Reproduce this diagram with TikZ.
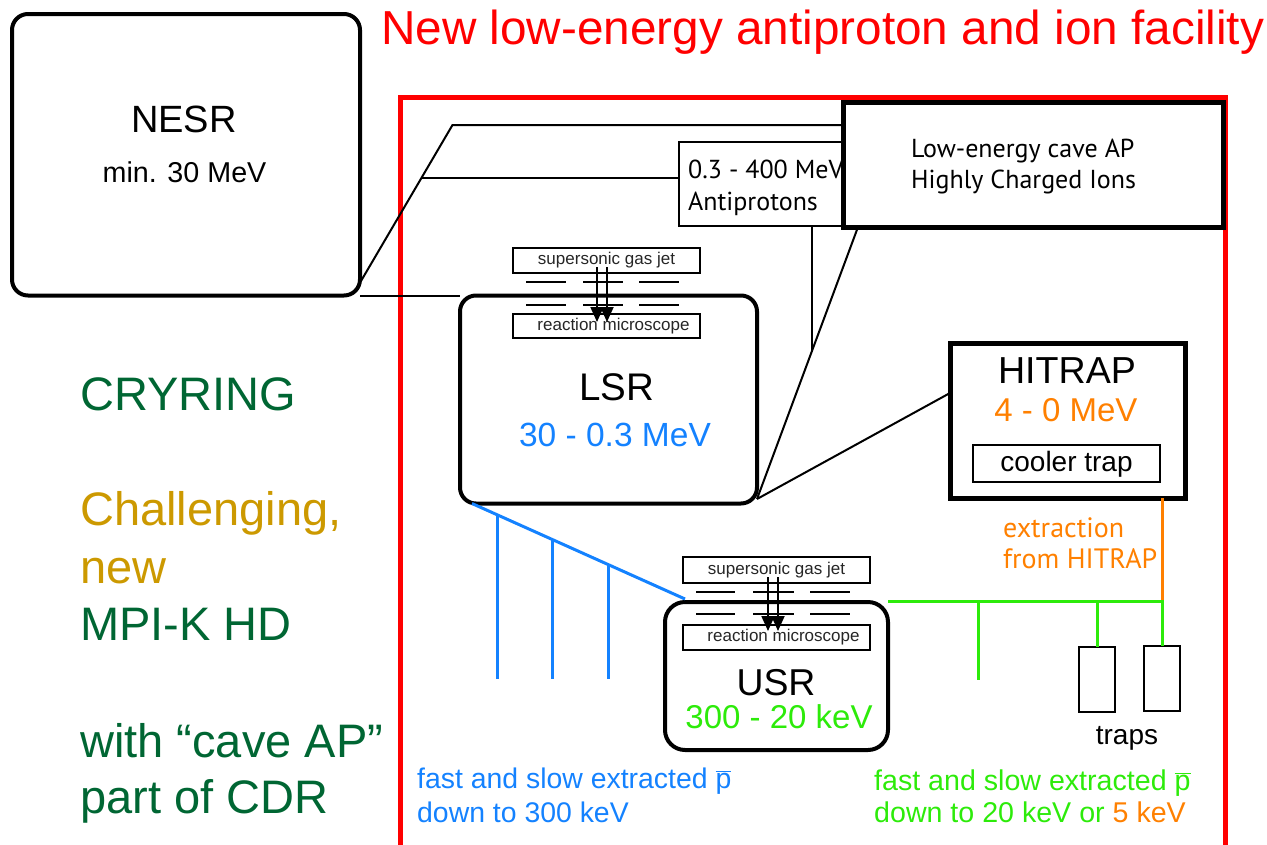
\documentclass[tikz,border=0pt]{standalone}
\usepackage{fontspec}
\setmainfont{Liberation Sans}
\newfontfamily\myr{PT Sans}
\usetikzlibrary{arrows.meta,calc}
\definecolor{fred}{RGB}{255,0,0}
\definecolor{lblue}{RGB}{20,130,255}
\definecolor{lgreen}{RGB}{45,235,10}
\definecolor{lorange}{RGB}{255,128,0}
\definecolor{dgreen}{RGB}{0,102,51}
\definecolor{gold}{RGB}{204,153,0}
\newcommand{\fsz}[1]{\fontsize{#1}{#1}\selectfont}
\begin{document}
\begin{tikzpicture}[x=1pt,y=-1pt,
  box/.style={draw, anchor=north west, inner sep=0pt, outer sep=0pt, fill=white},
  ring/.style={box, line width=4pt, rounded corners=16pt},
  thinbox/.style={box, line width=1.6pt},
  jetbox/.style={box, line width=1.3pt, font=\fsz{17}, text=black!85},
  lbl/.style={anchor=base, inner sep=0pt},
  lblw/.style={anchor=base west, inner sep=0pt},
  conn/.style={line width=2pt},
  blueline/.style={line width=3pt, lblue},
  greenline/.style={line width=3pt, lgreen},
  jetarrow/.style={line width=1.8pt, -{Triangle[width=13pt,length=15pt]}},
  dashseg/.style={line width=1.5pt},
  side/.style={lblw, font=\fsz{47}}
]
\useasboundingbox (0,0) rectangle (1267,844);

% title and red frame
\node[lblw, font=\fsz{47.7}, text=fred] (title) at (381,44) {New low-energy antiproton and ion facility};
\draw[fred, line width=5pt] (400,850) -- (400,97.5) -- (1225,97.5) -- (1225,850);

% left texts
\node[side, text=dgreen] (cry) at (80,410) {CRYRING};
\node[side, text=gold] (ch) at (80,525) {Challenging,};
\node[side, text=gold] (nw) at (80,583) {new};
\node[side, text=dgreen] (mpi) at (80,640) {MPI-K HD};
\node[side, text=dgreen] (wc) at (80,757) {with “cave AP”};
\node[side, text=dgreen] (pc) at (80,813) {part of CDR};

% NESR
\node[ring, minimum width=348pt, minimum height=281.5pt] (nesr) at (12,14) {};
\node[lbl, font=\fsz{38}] (nesrt) at (184,132) {NESR};
\node[lbl, font=\fsz{28.7}] (nesre) at (184.5,182) {min. 30 MeV};

% connector coordinates
\coordinate (k0) at (361,281);
\coordinate (k1) at (452.5,125);
\coordinate (k2) at (422,178);
\coordinate (v1) at (812,352);
\coordinate (ls) at (757,499);
\coordinate (hs) at (950,393);

% antiprotons box (behind cave box)
\node[thinbox, minimum width=164pt, minimum height=84pt] (ap) at (679,142) {};
\node[lblw, font=\myr\fsz{26}] (apt1) at (688,178) {0.3 - 400 MeV};
\node[lblw, font=\myr\fsz{26}] (apt2) at (688,210) {Antiprotons};

% LSR
\node[ring, minimum width=297pt, minimum height=208pt] (lsr) at (460,295.5) {};
\node[lbl, font=\fsz{38.5}] (lsrt) at (617,400) {LSR};
\node[lbl, font=\fsz{33.5}, text=lblue] (lsre) at (615,446) {30 - 0.3 MeV};

% USR
\node[ring, rounded corners=20pt, minimum width=223pt, minimum height=148pt] (usr) at (665,602) {};
\node[lbl, font=\fsz{37.4}] (usrt) at (776,695) {USR};
\node[lbl, font=\fsz{33}, text=lgreen] (usre) at (779,728) {300 - 20 keV};

% HITRAP
\node[box, line width=5pt, minimum width=235pt, minimum height=155pt] (hit) at (950,343) {};
\node[lbl, font=\fsz{37.6}] (hitt) at (1067,383) {HITRAP};
\node[lbl, font=\fsz{33}, text=lorange] (hite) at (1066,421) {4 - 0 MeV};
\node[thinbox, minimum width=187pt, minimum height=37pt] (cool) at (973,445) {};
\node[lbl, font=\fsz{28}] (coolt) at (1066.5,471) {cooler trap};

% black connectors
\draw[conn] (k0) -- (k1) -- (k1 -| 843,0);
\draw[conn] (k2) -- (k2 -| ap.west);
\draw[conn] (nesr.south east) -- (lsr.north west);
\draw[conn] (v1 |- ap.south) -- (v1);
\draw[conn] ($(ap.south east)+(15,1)$) -- (ls);
\draw[conn] (ls) -- (hs);

% cave box
\node[box, line width=5pt, minimum width=380pt, minimum height=125pt] (cave) at (843,102) {};
\node[lblw, font=\myr\fsz{26}] (cavet1) at (911,157) {Low-energy cave AP};
\node[lblw, font=\myr\fsz{26}] (cavet2) at (911,188) {Highly Charged Ions};

% gas jet on LSR
\node[jetbox, minimum width=187pt, minimum height=25pt] (gj1) at (513,248) {supersonic gas jet};
\node[jetbox, minimum width=187pt, minimum height=24pt] (rm1) at (513,314) {\hspace*{14pt}reaction microscope};
\foreach \y in {282,305} {
  \draw[dashseg] (526,\y) -- (566,\y);
  \draw[dashseg] (583,\y) -- (623,\y);
  \draw[dashseg] (639,\y) -- (679,\y);
}
\draw[jetarrow] ($(gj1.south)+(-9.5,-6)$) -- ($(rm1.north)+(-9.5,8)$);
\draw[jetarrow] ($(gj1.south)+(0.5,-6)$) -- ($(rm1.north)+(0.5,8)$);

% gas jet on USR
\node[jetbox, minimum width=187pt, minimum height=26pt] (gj2) at (683,557) {supersonic gas jet};
\node[jetbox, minimum width=187pt, minimum height=25pt] (rm2) at (683,625) {\hspace*{14pt}reaction microscope};
\foreach \y in {592,614} {
  \draw[dashseg] (696,\y) -- (735,\y);
  \draw[dashseg] (753,\y) -- (794,\y);
  \draw[dashseg] (810,\y) -- (850,\y);
}
\draw[jetarrow] ($(gj2.south)+(-8.5,-6)$) -- ($(rm2.north)+(-8.5,6)$);
\draw[jetarrow] ($(gj2.south)+(1.5,-6)$) -- ($(rm2.north)+(1.5,6)$);

% blue extraction lines
\coordinate (b0) at ($(lsr.south west)+(12,0)$);
\coordinate (b4) at ($(usr.north west)+(20,-3)$);
\draw[blueline] (b0) -- (b4);
\foreach \t in {0.122,0.376,0.643} {
  \coordinate (bp) at ($(b0)!\t!(b4)$);
  \draw[blueline] (bp) -- (bp |- 0,679);
}

% traps
\node[thinbox, minimum width=36pt, minimum height=65pt] (t1) at (1079,647) {};
\node[thinbox, minimum width=36pt, minimum height=65pt] (t2) at (1144,646) {};
\node[lbl, font=\fsz{28}] (trapst) at (1127,744) {traps};

% green and orange lines
\coordinate (g1) at (1162,601);
\coordinate (g2) at (978,680);
\draw[line width=3pt, lorange] (hit.south -| g1) -- (g1);
\draw[greenline] ($(usr.north east)+(0,-1)$) -- (g1) -- (t2.north);
\draw[greenline] (g2 |- g1) -- (g2);
\draw[greenline] (t1.north |- g1) -- (t1.north);

\node[lblw, font=\myr\fsz{28}, text=lorange] (ex1) at (1003,537) {extraction};
\node[lblw, font=\myr\fsz{28}, text=lorange] (ex2) at (1003,568) {from HITRAP};

% bottom texts
\node[lblw, font=\fsz{28.4}, text=lblue] (bl1) at (417,788) {fast and slow extracted $\overline{\mbox{p}}$};
\node[lblw, font=\fsz{28.4}, text=lblue] (bl2) at (417,822) {down to 300 keV};
\node[lblw, font=\fsz{28.6}, text=lgreen] (gr1) at (874,790) {fast and slow extracted $\overline{\mbox{p}}$};
\node[lblw, font=\fsz{28.6}, text=lgreen] (gr2) at (874,822) {down to 20 keV or \textcolor{lorange}{5 keV}};
\end{tikzpicture}
\end{document}
